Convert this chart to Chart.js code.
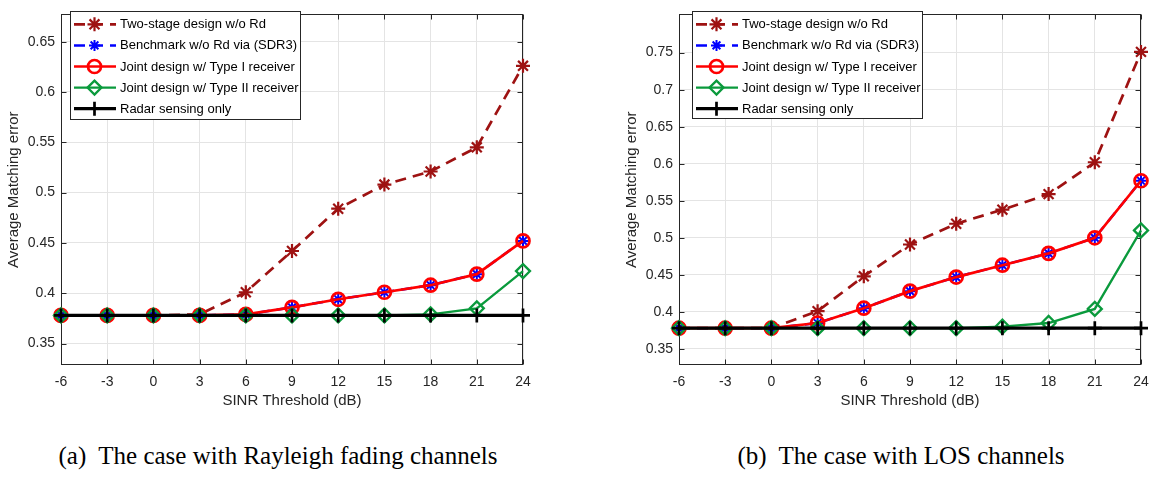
<!DOCTYPE html>
<html><head><meta charset="utf-8">
<script src="https://cdn.jsdelivr.net/npm/chart.js@4/dist/chart.umd.min.js"></script>
<style>
html,body{margin:0;padding:0;background:#fff;width:1154px;height:480px;overflow:hidden;}
.box{position:absolute;top:0;width:560px;height:420px;}
.cap{position:absolute;top:443px;width:520px;font-family:"Liberation Serif","Times New Roman",serif;font-size:25px;line-height:25px;color:#000;white-space:pre;text-align:center;}
</style></head><body>
<div class="box" style="left:0px"><canvas id="cA" width="560" height="420"></canvas></div>
<div class="box" style="left:618px"><canvas id="cB" width="560" height="420"></canvas></div>
<div class="cap" style="left:18px">(a)  The case with Rayleigh fading channels</div>
<div class="cap" style="left:641px">(b)  The case with LOS channels</div>
<script>
// ---- data ----
const sinr = [-6, -3, 0, 3, 6, 9, 12, 15, 18, 21, 24];
const xTickLabels = ['-6', '-3', '0', '3', '6', '9', '12', '15', '18', '21', '24'];
const seriesNames = ['Two-stage design w/o Rd', 'Benchmark w/o Rd via (SDR3)', 'Joint design w/ Type I receiver', 'Joint design w/ Type II receiver', 'Radar sensing only'];

// (a) Rayleigh fading channels
const twoStageA = [0.378, 0.378, 0.378, 0.379, 0.401, 0.442, 0.484, 0.508, 0.521, 0.545, 0.626];
const benchA    = [0.378, 0.378, 0.378, 0.378, 0.379, 0.386, 0.394, 0.401, 0.408, 0.419, 0.452];
const jointIA   = [0.378, 0.378, 0.378, 0.378, 0.379, 0.386, 0.394, 0.401, 0.408, 0.419, 0.452];
const jointIIA  = [0.378, 0.378, 0.378, 0.378, 0.378, 0.378, 0.378, 0.378, 0.379, 0.385, 0.422];
const radarA    = [0.378, 0.378, 0.378, 0.378, 0.378, 0.378, 0.378, 0.378, 0.378, 0.378, 0.378];
const yTicksA = [0.35, 0.4, 0.45, 0.5, 0.55, 0.6, 0.65];
const yTickLabelsA = ['0.35', '0.4', '0.45', '0.5', '0.55', '0.6', '0.65'];

// (b) LOS channels
const twoStageB = [0.378, 0.378, 0.378, 0.401, 0.448, 0.491, 0.519, 0.538, 0.559, 0.602, 0.751];
const benchB    = [0.378, 0.378, 0.378, 0.385, 0.405, 0.428, 0.447, 0.463, 0.479, 0.500, 0.577];
const jointIB   = [0.378, 0.378, 0.378, 0.385, 0.405, 0.428, 0.447, 0.463, 0.479, 0.500, 0.577];
const jointIIB  = [0.378, 0.378, 0.378, 0.378, 0.378, 0.378, 0.378, 0.380, 0.385, 0.404, 0.510];
const radarB    = [0.378, 0.378, 0.378, 0.378, 0.378, 0.378, 0.378, 0.378, 0.378, 0.378, 0.378];
const yTicksB = [0.35, 0.4, 0.45, 0.5, 0.55, 0.6, 0.65, 0.7, 0.75];
const yTickLabelsB = ['0.35', '0.4', '0.45', '0.5', '0.55', '0.6', '0.65', '0.7', '0.75'];

// ---- styles ----
const C_DRED = '#9e1212', C_BLUE = '#0000ff', C_RED = '#ff0000', C_GREEN = '#0a9a3c', C_BLACK = '#000000';
const TXT = '#262626';
const SANS = '"Liberation Sans", Arial, Helvetica, sans-serif';

function pts(ys) { return ys.map((y, i) => ({ x: sinr[i], y: y })); }

function makeDatasets(two, bench, j1, j2, radar) {
  return [
    { label: seriesNames[0], data: pts(two), borderColor: C_DRED, borderWidth: 2.7, borderDash: [11, 7],
      pointStyle: 'star', pointRadius: 7, pointBorderWidth: 2.2, pointBorderColor: C_DRED, pointBackgroundColor: C_DRED, order: 5 },
    { label: seriesNames[1], data: pts(bench), borderColor: C_BLUE, borderWidth: 2.5, borderDash: [11, 7],
      pointStyle: 'star', pointRadius: 5.5, pointBorderWidth: 2, pointBorderColor: C_BLUE, pointBackgroundColor: C_BLUE, order: 4 },
    { label: seriesNames[2], data: pts(j1), borderColor: C_RED, borderWidth: 2.7,
      pointStyle: 'circle', pointRadius: 6.5, pointBorderWidth: 2.7, pointBorderColor: C_RED, pointBackgroundColor: 'rgba(0,0,0,0)', order: 3 },
    { label: seriesNames[3], data: pts(j2), borderColor: C_GREEN, borderWidth: 2.3,
      pointStyle: 'rectRot', pointRadius: 7, pointBorderWidth: 2.3, pointBorderColor: C_GREEN, pointBackgroundColor: 'rgba(0,0,0,0)', order: 2 },
    { label: seriesNames[4], data: pts(radar), borderColor: C_BLACK, borderWidth: 3.2,
      pointStyle: 'cross', pointRadius: 7, pointBorderWidth: 2.7, pointBorderColor: C_BLACK, pointBackgroundColor: C_BLACK, order: 1 }
  ].map(d => Object.assign({ fill: false, tension: 0, clip: false, pointHoverRadius: d.pointRadius }, d));
}

function drawMarker(ctx, style, x, y, r) {
  ctx.beginPath();
  if (style === 'star') {
    const d = r * Math.SQRT1_2;
    ctx.moveTo(x - r, y); ctx.lineTo(x + r, y);
    ctx.moveTo(x, y - r); ctx.lineTo(x, y + r);
    ctx.moveTo(x - d, y - d); ctx.lineTo(x + d, y + d);
    ctx.moveTo(x - d, y + d); ctx.lineTo(x + d, y - d);
  } else if (style === 'circle') {
    ctx.arc(x, y, r, 0, Math.PI * 2);
  } else if (style === 'rectRot') {
    ctx.moveTo(x - r, y); ctx.lineTo(x, y - r); ctx.lineTo(x + r, y); ctx.lineTo(x, y + r); ctx.closePath();
  } else if (style === 'cross') {
    ctx.moveTo(x - r, y); ctx.lineTo(x + r, y);
    ctx.moveTo(x, y - r); ctx.lineTo(x, y + r);
  }
  ctx.stroke();
}

const framePlugin = {
  id: 'frame',
  beforeDatasetsDraw(chart) {
    const { ctx, chartArea: a, scales } = chart;
    ctx.save();
    ctx.strokeStyle = TXT; ctx.lineWidth = 1;
    const L = Math.round(a.left) + 0.5, R = Math.round(a.right) - 0.5, T = Math.round(a.top) + 0.5, B = Math.round(a.bottom) - 0.5;
    ctx.strokeRect(L, T, R - L, B - T);
    const tl = 5;
    ctx.beginPath();
    scales.x.ticks.forEach(t => {
      const px = Math.round(scales.x.getPixelForValue(t.value)) + 0.5;
      ctx.moveTo(px, B); ctx.lineTo(px, B - tl);
      ctx.moveTo(px, T); ctx.lineTo(px, T + tl);
    });
    scales.y.ticks.forEach(t => {
      const py = Math.round(scales.y.getPixelForValue(t.value)) + 0.5;
      ctx.moveTo(L, py); ctx.lineTo(L + tl, py);
      ctx.moveTo(R, py); ctx.lineTo(R - tl, py);
    });
    ctx.stroke();
    ctx.restore();
  }
};

const legendPlugin = {
  id: 'mlegend',
  afterDraw(chart, args, opts) {
    const { ctx } = chart;
    const x = opts.x, y = opts.y, w = opts.w, h = opts.h;
    ctx.save();
    ctx.fillStyle = '#fff';
    ctx.fillRect(x, y, w, h);
    ctx.strokeStyle = TXT; ctx.lineWidth = 1;
    ctx.strokeRect(Math.round(x) + 0.5, Math.round(y) + 0.5, Math.round(w) - 1, Math.round(h) - 1);
    chart.data.datasets.forEach((ds, i) => {
      const cy = y + 13.3 + i * 21.1;
      ctx.strokeStyle = ds.borderColor;
      ctx.lineWidth = ds.borderWidth;
      ctx.setLineDash(ds.borderDash || []);
      ctx.beginPath(); ctx.moveTo(x + 4, cy); ctx.lineTo(x + 46, cy); ctx.stroke();
      ctx.setLineDash([]);
      ctx.lineWidth = ds.pointBorderWidth;
      ctx.strokeStyle = ds.pointBorderColor;
      drawMarker(ctx, ds.pointStyle, x + 24.5, cy, ds.pointRadius);
      ctx.fillStyle = '#000';
      ctx.font = '13px ' + SANS;
      ctx.textBaseline = 'middle'; ctx.textAlign = 'left';
      ctx.fillText(ds.label, x + 50, cy + 0.5);
    });
    ctx.restore();
  }
};

function makeChart(id, datasets, yMin, yMax, yTicks, yLabels, leg) {
  return new Chart(document.getElementById(id), {
    type: 'line',
    data: { datasets: datasets },
    plugins: [framePlugin, legendPlugin],
    options: {
      responsive: false, animation: false, devicePixelRatio: 1,
      layout: { padding: { top: 1, right: 37, bottom: 0, left: 0 } },
      plugins: { legend: { display: false }, tooltip: { enabled: false }, mlegend: leg },
      scales: {
        x: {
          type: 'linear', min: -6, max: 24,
          afterBuildTicks: s => { s.ticks = sinr.map(v => ({ value: v })); },
          afterFit: s => { s.height = 55; },
          ticks: { callback: (v, i) => xTickLabels[i], font: { family: SANS, size: 14 }, color: TXT, padding: 9, maxRotation: 0, autoSkip: false },
          grid: { color: '#e4e4e4', lineWidth: 1, drawTicks: false },
          border: { display: false },
          title: { display: true, text: 'SINR Threshold (dB)', font: { family: SANS, size: 15 }, color: TXT, padding: { top: 0, bottom: 10 } }
        },
        y: {
          type: 'linear', min: yMin, max: yMax,
          afterBuildTicks: s => { s.ticks = yTicks.map(v => ({ value: v })); },
          afterFit: s => { s.width = 61; },
          ticks: { callback: (v, i) => yLabels[i], font: { family: SANS, size: 14 }, color: TXT, padding: 6, autoSkip: false },
          grid: { color: '#e4e4e4', lineWidth: 1, drawTicks: false },
          border: { display: false },
          title: { display: true, text: 'Average Matching error', font: { family: SANS, size: 15 }, color: TXT, padding: { top: 5, bottom: 0 } }
        }
      }
    }
  });
}

makeChart('cA', makeDatasets(twoStageA, benchA, jointIA, jointIIA, radarA), 0.3287, 0.6771, yTicksA, yTickLabelsA,
  { x: 70, y: 11, w: 231, h: 109 });
makeChart('cB', makeDatasets(twoStageB, benchB, jointIB, jointIIB, radarB), 0.3283, 0.8016, yTicksB, yTickLabelsB,
  { x: 74, y: 11, w: 231, h: 108 });
</script>
</body></html>
